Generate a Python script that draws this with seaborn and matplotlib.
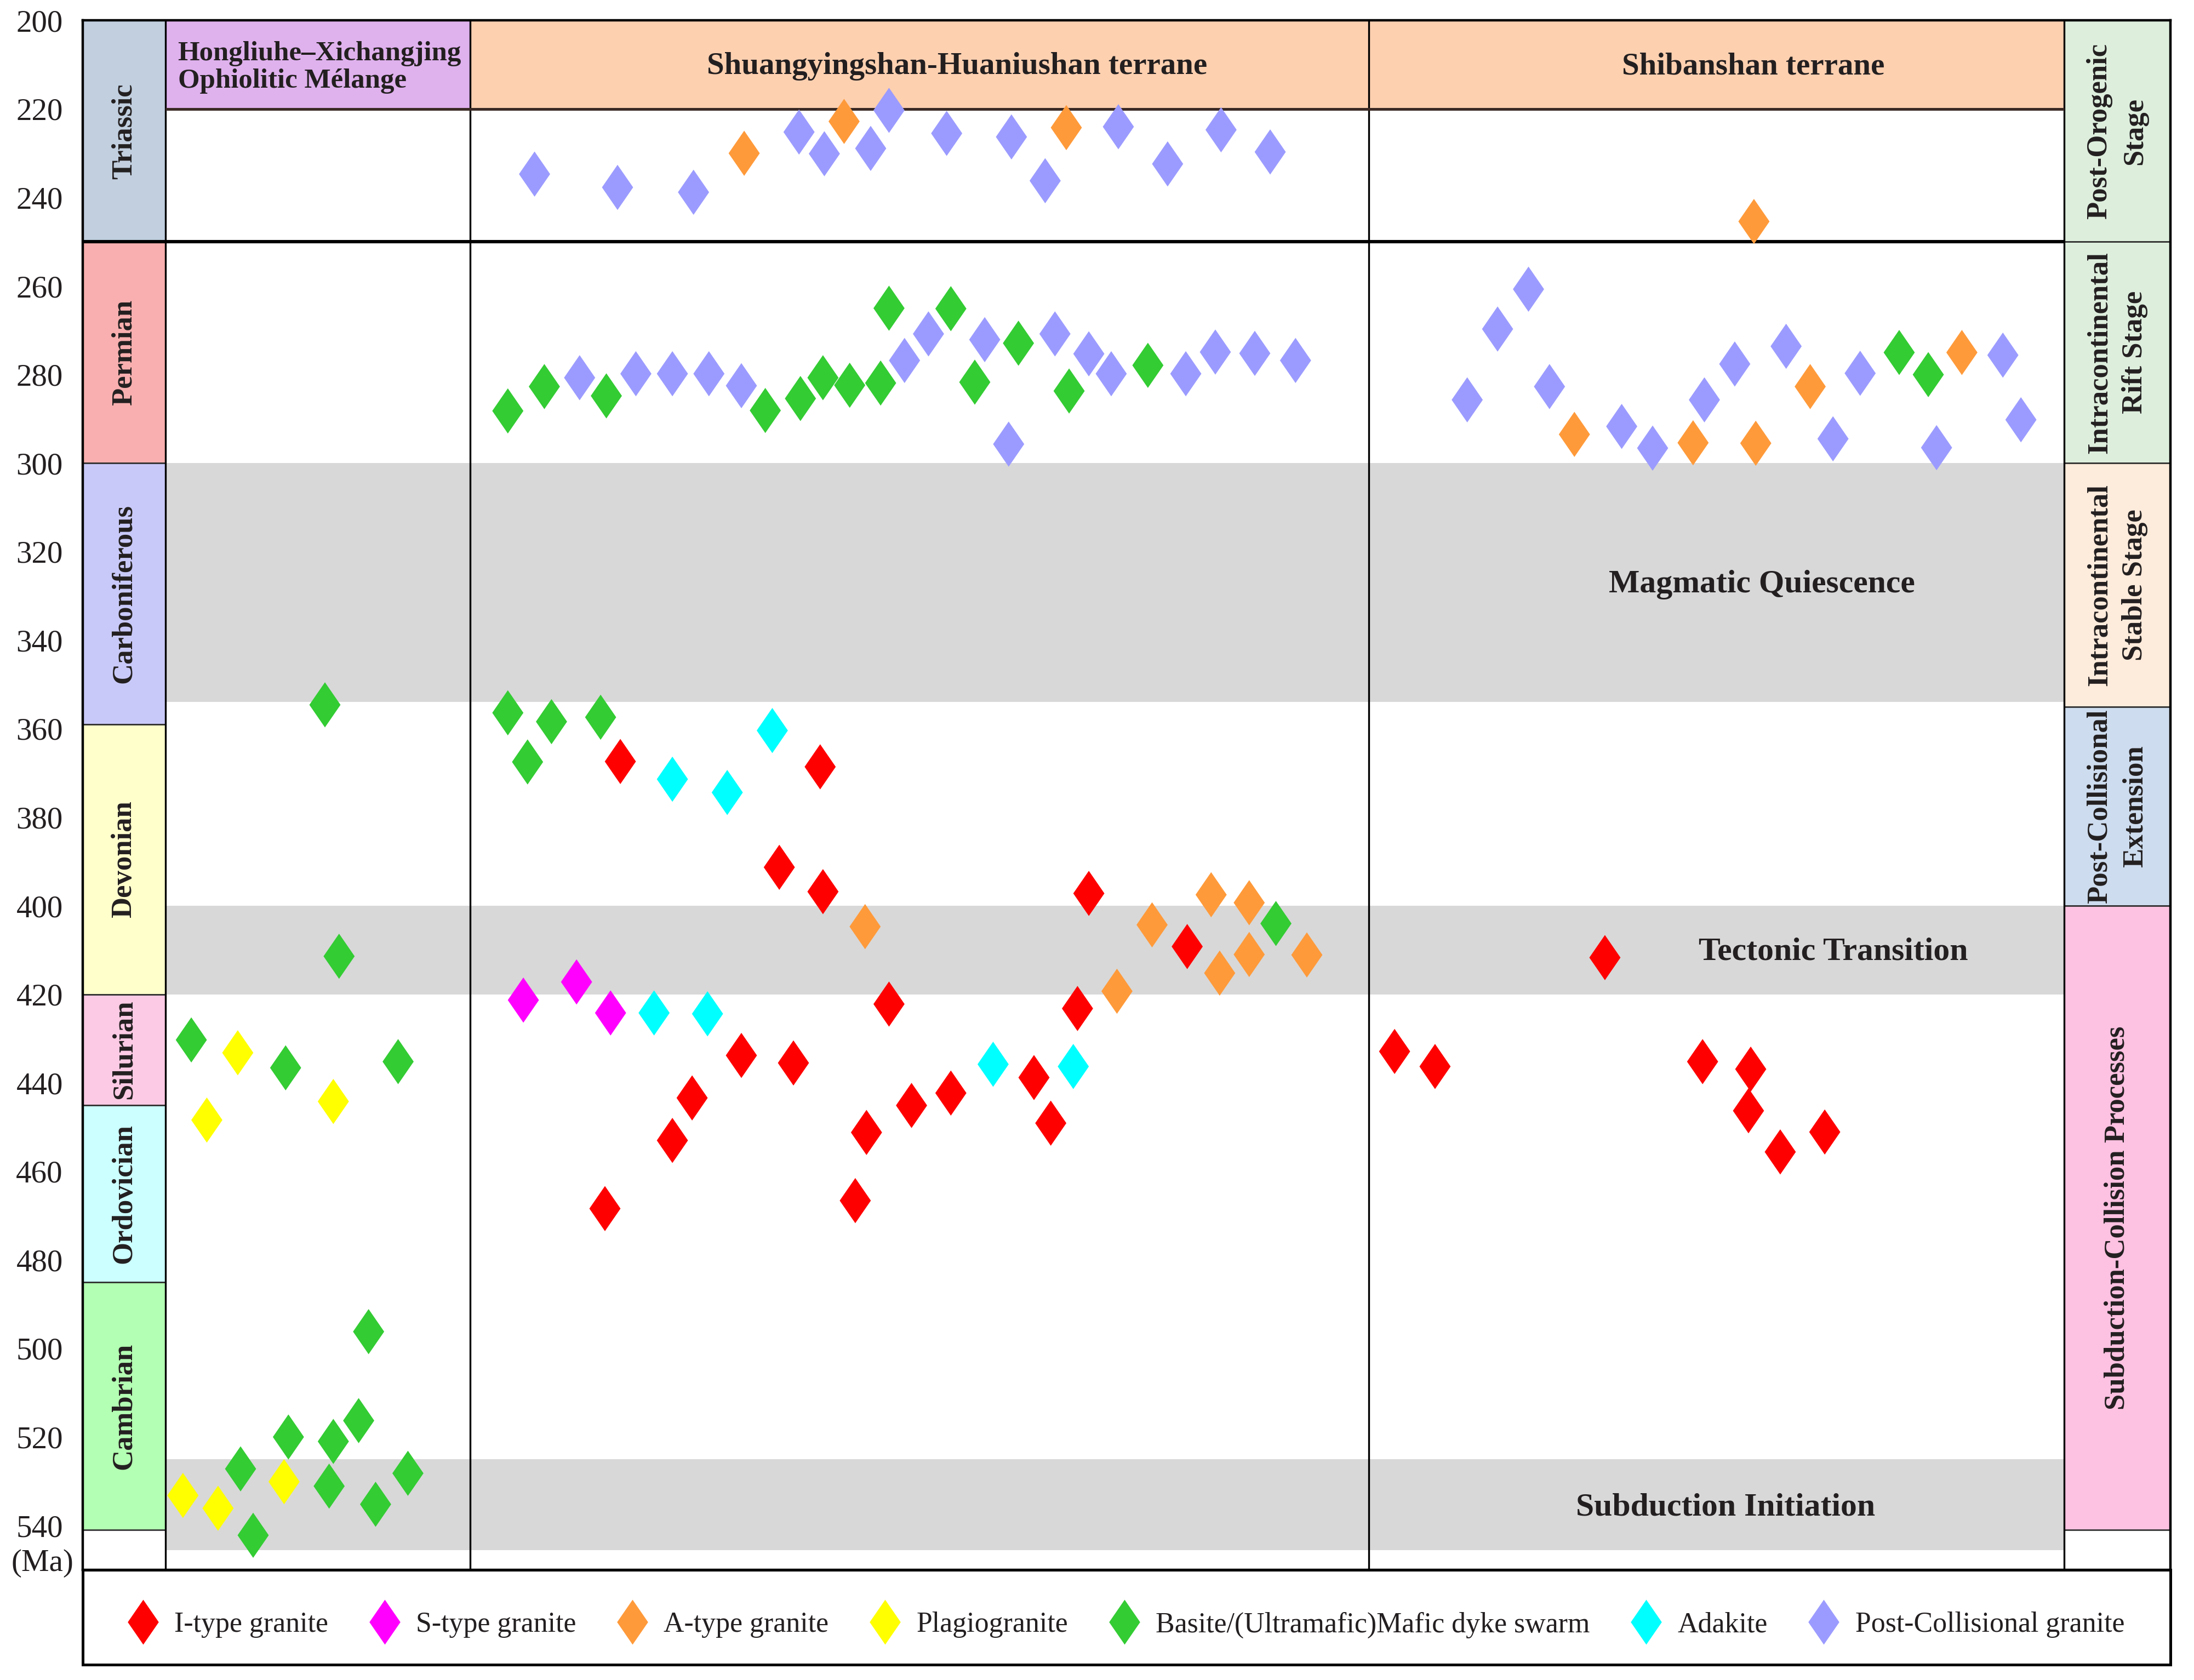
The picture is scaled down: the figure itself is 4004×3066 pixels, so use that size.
import numpy as np
import pandas as pd
import matplotlib
matplotlib.use("Agg")
import matplotlib.pyplot as plt
from matplotlib.lines import Line2D
from matplotlib.patches import Rectangle
import seaborn as sns

# ---------------- data ----------------
# ages in Ma; x = horizontal slot of each sample inside the terrane panels
periods = ["Triassic", "Permian", "Carboniferous", "Devonian", "Silurian", "Ordovician", "Cambrian"]
period_top = [200, 250, 300, 359, 420, 445, 485]
period_base = [250, 300, 359, 420, 445, 485, 541]
period_colors = ["#c1cfdf", "#f9afaf", "#c9c9f9", "#ffffcc", "#fccae4", "#ccffff", "#b3ffb3"]

stages = ["Post-Orogenic\nStage", "Intracontinental\nRift Stage", "Intracontinental\nStable Stage",
          "Post-Collisional\nExtension", "Subduction-Collision Processes"]
stage_top = [200, 250, 300, 355, 400]
stage_base = [250, 300, 355, 400, 541]
stage_colors = ["#ddeedd", "#ddeedd", "#fdebdb", "#cddcee", "#fdc1e1"]

events = ["Magmatic Quiescence", "Tectonic Transition", "Subduction Initiation"]
event_top = [300, 400, 525]
event_base = [354, 420, 545.5]
event_label_age = [327.5, 410.5, 536]
event_label_x = [1259, 1310, 1233]

terranes = ["Hongliuhe–Xichangjing\nOphiolitic Mélange", "Shuangyingshan-Huaniushan terrane", "Shibanshan terrane"]
terrane_colors = ["#dfb1ed", "#fdd0b0", "#fdd0b0"]

i_type_x = [443.3, 586.1, 556.9, 588.1, 778.1, 848.4, 635.3, 770.0, 529.8, 567.0, 494.6, 480.5, 619.2,
            651.4, 679.5, 738.9, 750.9, 432.3, 611.2,
            1146.9, 996.6, 1025.5, 1216.7, 1251.1, 1249.5, 1272.2, 1304.0]
i_type_age = [367.4, 368.6, 391.3, 396.8, 397.2, 409.2, 422.2, 423.2, 433.8, 435.5, 443.4, 453.0, 451.2,
              445.1, 442.3, 438.8, 449.1, 468.4, 466.6,
              411.7, 432.9, 436.3, 435.2, 436.9, 446.3, 455.6, 451.1]

s_type_x = [374.0, 412.0, 436.3]
s_type_age = [421.3, 417.2, 424.2]

a_type_x = [531.8, 603.2, 762.0, 618.2, 798.2, 823.3, 865.5, 892.7, 892.7, 871.6, 933.9,
            1253.4, 1125.1, 1209.9, 1254.7, 1293.6, 1402.0]
a_type_age = [230.0, 222.8, 224.2, 404.7, 419.3, 404.3, 397.5, 399.3, 411.0, 415.2, 411.1,
              245.4, 293.5, 295.4, 295.5, 282.7, 275.0]

plagio_x = [169.9, 147.8, 238.2, 130.7, 155.8, 203.0]
plagio_age = [433.2, 448.4, 444.2, 533.2, 536.1, 530.1]

basite_x = [232.2, 242.3, 136.7, 204.1, 284.5, 263.4, 256.3, 206.1, 238.2, 171.9, 235.2, 291.5, 268.4, 180.9,
            362.9, 389.0, 433.3, 546.9, 572.0, 588.1, 607.2, 629.3, 635.3, 679.5, 696.6, 727.8, 764.0, 820.3,
            362.9, 394.1, 429.2, 377.0, 911.8, 1357.2, 1378.0]
basite_age = [354.6, 411.4, 430.3, 436.6, 435.2, 496.2, 516.3, 520.0, 521.0, 527.2, 531.1, 528.2, 535.2, 542.2,
              288.2, 282.7, 284.8, 288.1, 285.4, 280.7, 282.4, 281.9, 265.0, 265.1, 281.7, 272.9, 283.7, 277.9,
              356.4, 358.4, 357.4, 367.5, 404.0, 275.0, 280.0]

adakite_x = [551.9, 480.5, 519.7, 467.4, 505.6, 709.7, 767.0]
adakite_age = [360.4, 371.4, 374.4, 424.2, 424.4, 435.8, 436.3]

postcol_x = [382.0, 441.3, 495.6, 571.0, 589.1, 622.2, 635.3, 676.5, 722.8, 746.9, 799.2, 834.4, 872.6, 907.7,
             414.2, 454.4, 480.5, 506.6, 529.8, 646.4, 663.5, 703.7, 753.9, 778.1, 794.1, 847.4, 868.5, 896.7,
             925.8, 720.8,
             1048.5, 1070.2, 1092.3, 1107.3, 1158.9, 1181.0, 1218.0, 1239.7, 1276.4, 1309.9, 1329.3, 1383.9,
             1431.3, 1444.2]
postcol_age = [234.7, 237.7, 238.8, 225.2, 230.1, 228.9, 220.3, 225.5, 226.3, 236.2, 224.0, 232.4, 224.7, 229.7,
               280.7, 279.8, 279.8, 279.8, 282.5, 276.8, 270.8, 272.1, 270.8, 275.3, 279.8, 279.8, 274.9, 275.2,
               276.8, 295.7,
               285.7, 269.7, 260.7, 282.7, 291.7, 296.6, 285.7, 277.6, 273.6, 294.5, 279.7, 296.5, 275.6, 290.2]

rock_types = ["I-type granite", "S-type granite", "A-type granite", "Plagiogranite",
              "Basite/(Ultramafic)Mafic dyke swarm", "Adakite", "Post-Collisional granite"]
rock_colors = ["#ff0000", "#ff00ff", "#ff9a3a", "#ffff00", "#33cc33", "#00ffff", "#9b9bff"]

series = [(i_type_x, i_type_age), (s_type_x, s_type_age), (a_type_x, a_type_age), (plagio_x, plagio_age),
          (basite_x, basite_age), (adakite_x, adakite_age), (postcol_x, postcol_age)]
df = pd.concat([pd.DataFrame({"x": sx, "age": sa, "type": name})
                for name, (sx, sa) in zip(rock_types, series)], ignore_index=True)

# ---------------- layout ----------------
col_edges = [59.1, 118.1, 336, 978.2, 1474.9, 1551.1]
x_lo, x_hi = col_edges[0], col_edges[-1]
ink = "#231f20"
diamond = [(0, 1), (0.69, 0), (0, -1), (-0.69, 0), (0, 1)]

sns.set_theme(style="white")
plt.rcParams["font.family"] = ["Liberation Serif", "DejaVu Serif"]
plt.rcParams["text.color"] = ink

fig = plt.figure(figsize=(20.02, 15.33), dpi=200)
ax = fig.add_axes([0.0377, 0.0656, 0.9516, 0.9222])
ax_leg = fig.add_axes([0.0377, 0.0091, 0.9516, 0.0565])

# period column
for name, t, b, c in zip(periods, period_top, period_base, period_colors):
    ax.add_patch(Rectangle((col_edges[0], t), col_edges[1] - col_edges[0], b - t,
                           facecolor=c, edgecolor="#333333", lw=1.0, zorder=1))
    ax.text((col_edges[0] + col_edges[1]) / 2, (t + b) / 2, name, rotation=90, ha="center", va="center",
            fontsize=19, fontweight="bold", zorder=6)

# stage column
for name, t, b, c in zip(stages, stage_top, stage_base, stage_colors):
    ax.add_patch(Rectangle((col_edges[4], t), col_edges[5] - col_edges[4], b - t,
                           facecolor=c, edgecolor="#333333", lw=1.0, zorder=1))
    ax.text((col_edges[4] + col_edges[5]) / 2, (t + b) / 2, name, rotation=90, ha="center", va="center",
            fontsize=19, fontweight="bold", linespacing=1.45, zorder=6)

# grey event bands
for name, t, b, ya, xa in zip(events, event_top, event_base, event_label_age, event_label_x):
    ax.add_patch(Rectangle((col_edges[1] + 1, t), col_edges[4] - col_edges[1] - 1, b - t,
                           facecolor="#d8d8d8", edgecolor="none", zorder=0.5))
    ax.text(xa, ya, name, ha="center", va="center", fontsize=21.5, fontweight="bold", zorder=6)

# terrane headers
for i, (name, c) in enumerate(zip(terranes, terrane_colors)):
    ax.add_patch(Rectangle((col_edges[i + 1], 200), col_edges[i + 2] - col_edges[i + 1], 20,
                           facecolor=c, edgecolor="none", zorder=1))
ax.text(col_edges[1] + 9, 210.6, terranes[0], ha="left", va="center", fontsize=18.3,
        fontweight="bold", linespacing=1.1, zorder=6)
ax.text(684, 210.4, terranes[1], ha="center", va="center", fontsize=20.5, fontweight="bold", zorder=6)
ax.text(1253, 210.4, terranes[2], ha="center", va="center", fontsize=20.5, fontweight="bold", zorder=6)

# frame lines
ax.vlines(col_edges[1:5], 200, 550, colors="black", lw=1.2, zorder=3)
ax.hlines(220, col_edges[1], col_edges[4], colors="#3b2a25", lw=1.8, zorder=3)
ax.hlines(250, col_edges[0], col_edges[4], colors="black", lw=2.2, zorder=3)

# samples
sns.scatterplot(data=df, x="x", y="age", hue="type", hue_order=rock_types, palette=rock_colors,
                marker=diamond, s=880, linewidth=0, legend=False, ax=ax, zorder=5)

ax.set_xlim(x_lo, x_hi)
ax.set_ylim(550, 200)
ax.set_xticks([])
ax.set_yticks(np.arange(200, 541, 20))
ax.tick_params(axis="y", direction="in", length=5, width=1.2, color="#333333",
               labelsize=20.5, pad=13, labelcolor=ink, left=True)
ax.set_xlabel("")
ax.set_ylabel("")
for sp in ax.spines.values():
    sp.set_linewidth(1.6)
    sp.set_color("black")
    sp.set_zorder(7)
ax.text(-0.0194, 548.5, "(Ma)", transform=ax.get_yaxis_transform(), ha="center", va="center",
        fontsize=20.5, color=ink)

# legend strip
ax_leg.set_xticks([])
ax_leg.set_yticks([])
for sp in ax_leg.spines.values():
    sp.set_linewidth(1.8)
    sp.set_color("black")
handles = [Line2D([], [], marker=diamond, linestyle="", markersize=29.5, markeredgewidth=0,
                  markerfacecolor=c, label=n) for n, c in zip(rock_types, rock_colors)]
ax_leg.legend(handles=handles, loc="center", bbox_to_anchor=(0.5, 0.42), ncol=7, frameon=False,
              fontsize=18.7, handlelength=1.0, handletextpad=0.6, columnspacing=1.48,
              borderaxespad=0, labelcolor=ink)

fig.savefig("out.png", dpi=200)
